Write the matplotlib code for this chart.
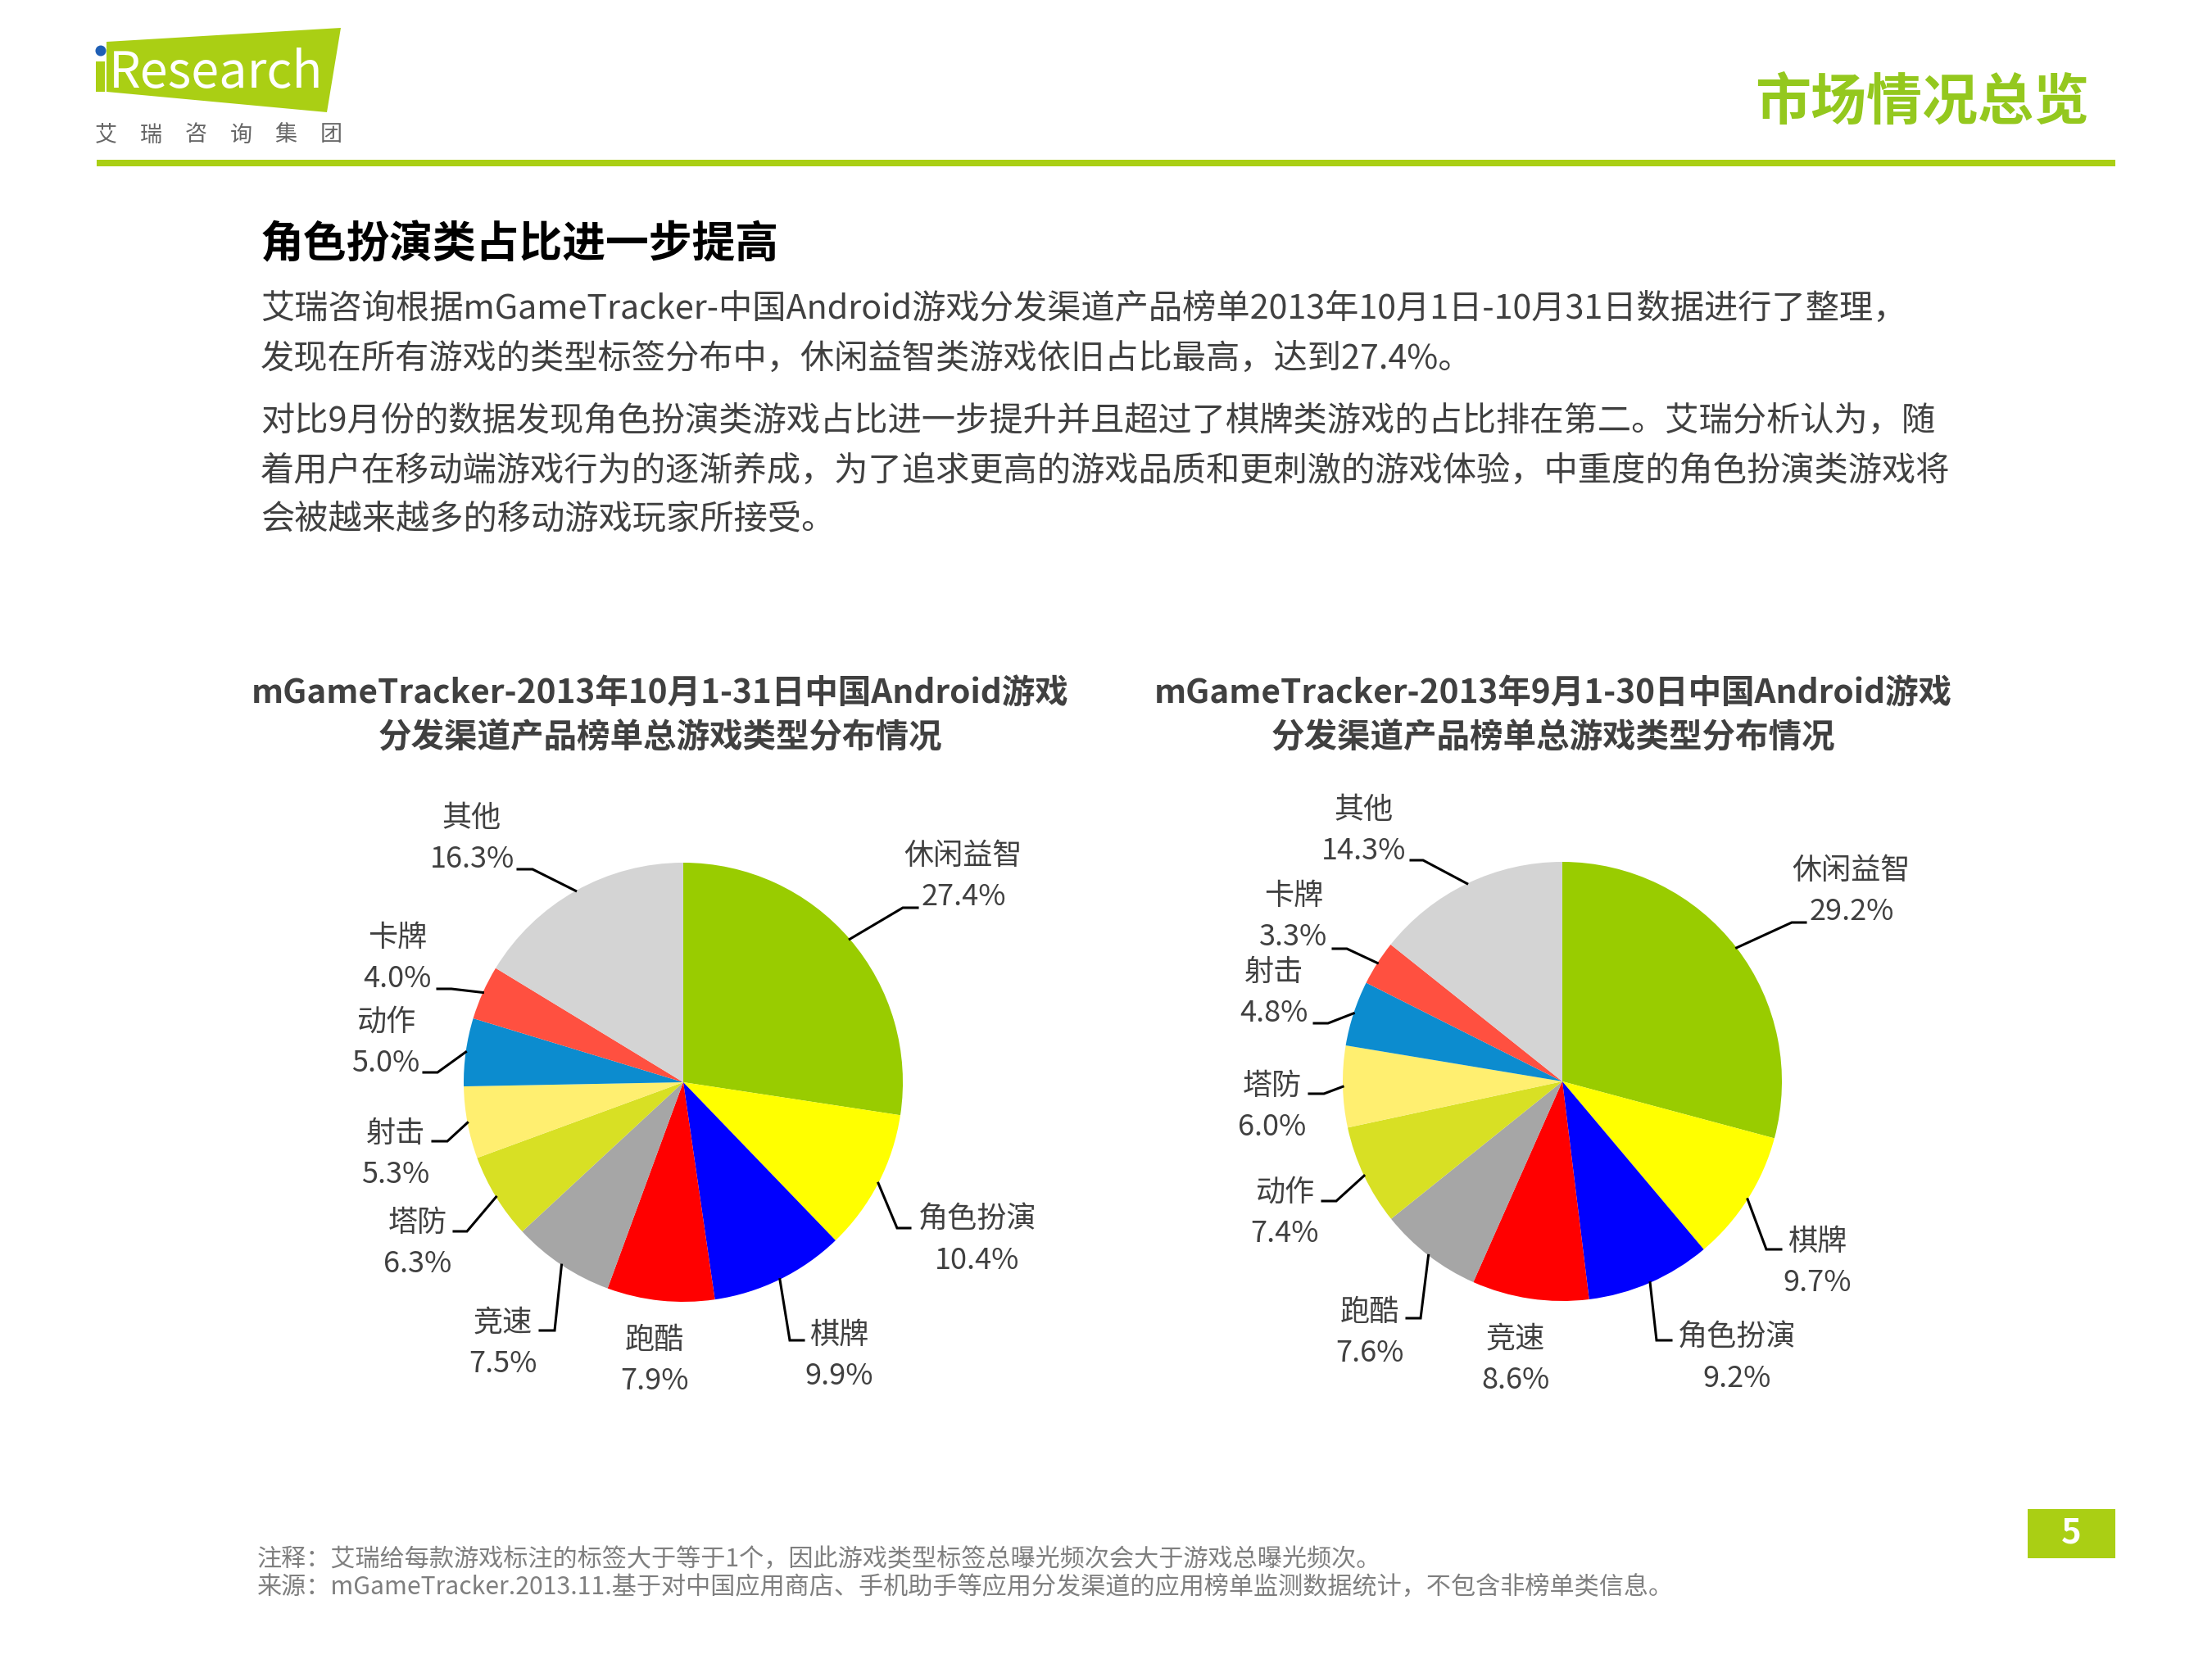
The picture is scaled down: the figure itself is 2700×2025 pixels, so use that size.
import numpy as np
import matplotlib
matplotlib.use("Agg")
import matplotlib.pyplot as plt
from matplotlib.patches import Polygon, Rectangle, Circle

plt.rcParams['font.family'] = ['Noto Sans CJK SC', 'DejaVu Sans']

# ---- data ----
oct_names = ["休闲益智", "角色扮演", "棋牌", "跑酷", "竞速", "塔防", "射击", "动作", "卡牌", "其他"]
oct_values = [27.4, 10.4, 9.9, 7.9, 7.5, 6.3, 5.3, 5.0, 4.0, 16.3]

sep_names = ["休闲益智", "棋牌", "角色扮演", "竞速", "跑酷", "动作", "塔防", "射击", "卡牌", "其他"]
sep_values = [29.2, 9.7, 9.2, 8.6, 7.6, 7.4, 6.0, 4.8, 3.3, 14.3]

oct_title = "mGameTracker-2013年10月1-31日中国Android游戏\n分发渠道产品榜单总游戏类型分布情况"
sep_title = "mGameTracker-2013年9月1-30日中国Android游戏\n分发渠道产品榜单总游戏类型分布情况"

heading = "角色扮演类占比进一步提高"
paragraph = [
    "艾瑞咨询根据mGameTracker-中国Android游戏分发渠道产品榜单2013年10月1日-10月31日数据进行了整理，",
    "发现在所有游戏的类型标签分布中，休闲益智类游戏依旧占比最高，达到27.4%。",
    "对比9月份的数据发现角色扮演类游戏占比进一步提升并且超过了棋牌类游戏的占比排在第二。艾瑞分析认为，随",
    "着用户在移动端游戏行为的逐渐养成，为了追求更高的游戏品质和更刺激的游戏体验，中重度的角色扮演类游戏将",
    "会被越来越多的移动游戏玩家所接受。",
]
notes = [
    "注释：艾瑞给每款游戏标注的标签大于等于1个，因此游戏类型标签总曝光频次会大于游戏总曝光频次。",
    "来源：mGameTracker.2013.11.基于对中国应用商店、手机助手等应用分发渠道的应用榜单监测数据统计，不包含非榜单类信息。",
]

slice_colors = ["#99CC00", "#FFFF00", "#0000FF", "#FF0000", "#A6A6A6",
                "#D8E024", "#FFEF70", "#0C8CCF", "#FF5040", "#D4D4D4"]

# ---- layout (pixel coords of the 2700x2025 page) ----
W, H = 2700, 2025
GREEN = "#AACF14"
TEXT = "#404040"

# label text centre, leader elbow (None = no leader), leader end x
oct_label_pos = [(1176, 1070), (1193, 1514), (1024, 1655), (799, 1661), (614, 1640),
                 (510, 1518), (483, 1409), (471, 1273), (485, 1170), (576, 1024)]
oct_elbows = [(1102, 1108), (1095, 1499), (964, 1636), None, (677, 1624),
              (570, 1503), (546, 1393), (534, 1309), (551, 1207), (650, 1061)]
oct_ends = [1120, 1111, 981, None, 659, 554, 528, 517, 534, 632]

sep_label_pos = [(2260, 1088), (2218, 1541), (2120, 1658), (1850, 1660), (1672, 1627),
                 (1568, 1481), (1553, 1351), (1555, 1212), (1579, 1119), (1665, 1014)]
sep_elbows = [(2187, 1126), (2156, 1525), (2022, 1636), None, (1734, 1609),
              (1631, 1466), (1616, 1335), (1621, 1249), (1644, 1158), (1737, 1050)]
sep_ends = [2204, 2174, 2040, None, 1717, 1614, 1598, 1604, 1627, 1722]

fig = plt.figure(figsize=(27, 20.25), dpi=100)
ax = fig.add_axes([0, 0, 1, 1])
ax.set_xlim(0, W)
ax.set_ylim(H, 0)
ax.axis("off")
ax.set_zorder(5)
ax.patch.set_alpha(0)

# ---- header / logo ----
ax.add_patch(Polygon([(130, 51), (416, 34), (399, 137), (130, 112)], closed=True,
                     facecolor=GREEN, edgecolor="none"))
ax.add_patch(Rectangle((117, 75), 11, 37, facecolor=GREEN, edgecolor="none"))
ax.add_patch(Circle((123, 62), 6.5, facecolor="#1F5FB5", edgecolor="none"))
ax.text(133, 107, "Research", color="white", fontsize=44, ha="left", va="baseline")
for i, ch in enumerate("艾瑞咨询集团"):
    ax.text(129 + i * 55, 165, ch, color="#666666", fontsize=19.5, ha="center", va="center")
ax.text(2550, 126, "市场情况总览", color="#94C81E", fontsize=49, fontweight="bold",
        ha="right", va="center")
ax.add_patch(Rectangle((118, 195), 2464, 8, facecolor=GREEN, edgecolor="none"))

ax.text(318, 299, heading, color="black", fontsize=38, fontweight="bold", ha="left", va="center")
para_y = [377, 438, 514, 575, 634]
for line, y in zip(paragraph, para_y):
    ax.text(318, y, line, color=TEXT, fontsize=29.7, ha="left", va="center")

# ---- chart titles ----
for title, xc in [(oct_title, 806), (sep_title, 1896)]:
    ax.text(xc, 873, title, color=TEXT, fontsize=29.2, fontweight="bold",
            ha="center", va="center", multialignment="center", linespacing=1.38)


def draw_pie(cx, cy, R, values, names, label_pos, elbows, ends):
    pax = fig.add_axes([(cx - R) / W, 1 - (cy + R) / H, 2 * R / W, 2 * R / H])
    wedges, _ = pax.pie(values, colors=slice_colors, startangle=90, counterclock=False,
                        radius=1, wedgeprops=dict(linewidth=0, antialiased=True))
    pax.set_xlim(-1, 1)
    pax.set_ylim(-1, 1)
    pax.axis("off")
    for w in wedges:
        w.set_clip_on(False)
    for w, name, val, (tx, ty), elb, hx in zip(wedges, names, values, label_pos, elbows, ends):
        mid = np.deg2rad((w.theta1 + w.theta2) / 2)
        ex, ey = cx + R * np.cos(mid), cy - R * np.sin(mid)
        if elb is not None:
            ax.plot([ex, elb[0], hx], [ey, elb[1], elb[1]], color="black", lw=2.2,
                    solid_joinstyle="miter")
        ax.text(tx, ty - 25, name, color=TEXT, fontsize=26, ha="center", va="center")
        ax.text(tx, ty + 25, f"{val:.1f}%", color=TEXT, fontsize=26, ha="center", va="center")


draw_pie(834, 1321, 268, oct_values, oct_names, oct_label_pos, oct_elbows, oct_ends)
draw_pie(1907, 1320, 268, sep_values, sep_names, sep_label_pos, sep_elbows, sep_ends)

# ---- footer ----
ax.text(314, 1903, notes[0], color="#7F7F7F", fontsize=21.7, ha="left", va="center")
ax.text(314, 1938, notes[1], color="#7F7F7F", fontsize=21.7, ha="left", va="center")
ax.add_patch(Rectangle((2475, 1842), 107, 60, facecolor=GREEN, edgecolor="none"))
ax.text(2528, 1872, "5", color="white", fontsize=30, fontweight="bold", ha="center", va="center")

fig.savefig("out.png", dpi=100, facecolor="white")
